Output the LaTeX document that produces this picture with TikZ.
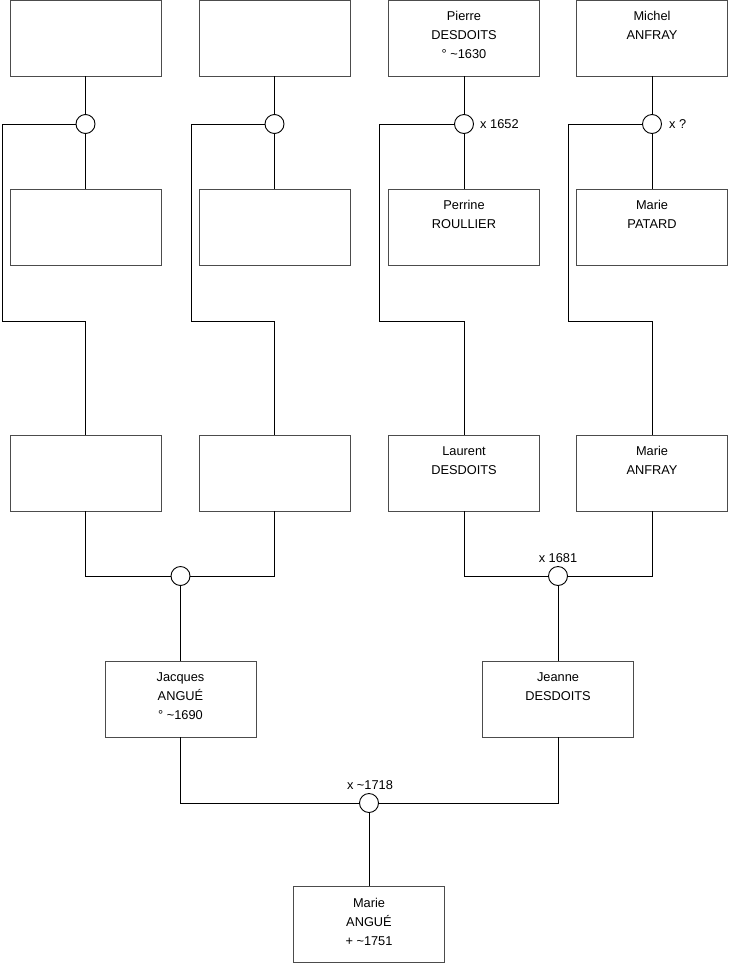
\documentclass[tikz,border=0pt]{standalone}
\usepackage{fontspec}
\setmainfont{Liberation Sans}
\begin{document}
\begin{tikzpicture}[x=1pt,y=1pt,
  pbox/.style={draw=black!70,line width=0.9pt,rectangle,minimum width=151pt,minimum height=76pt,inner sep=0pt},
  pname/.style={anchor=north,align=center,font=\fontsize{12.8}{19}\selectfont,inner sep=0pt},
  union/.style={draw=black,line width=0.9pt,circle,minimum size=19pt,inner sep=0pt},
  conn/.style={draw=black,line width=0.9pt},
  lbl/.style={font=\fontsize{12.8}{14}\selectfont,inner sep=0pt}]
\useasboundingbox (0,0) rectangle (740,-975);
% row 1
\node[pbox] (a1) at (85.5,-38) {};
\node[pbox] (a2) at (274.5,-38) {};
\node[pbox] (a3) at (464,-38) {};
\node[pbox] (a4) at (652,-38) {};
% row 2
\node[pbox] (b1) at (85.5,-227) {};
\node[pbox] (b2) at (274.5,-227) {};
\node[pbox] (b3) at (464,-227) {};
\node[pbox] (b4) at (652,-227) {};
% row 3
\node[pbox] (r1) at (85.5,-473) {};
\node[pbox] (r2) at (274.5,-473) {};
\node[pbox] (r3) at (464,-473) {};
\node[pbox] (r4) at (652,-473) {};
% row 4
\node[pbox] (jq) at (180.5,-699) {};
\node[pbox] (jn) at (558,-699) {};
% row 5
\node[pbox] (ma) at (369,-924.5) {};
% texts
\node[pname] (ta3) at ([yshift=-11.5]a3.north) {Pierre\\DESDOITS\\° \textasciitilde1630};
\node[pname] (ta4) at ([yshift=-11.5]a4.north) {Michel\\ANFRAY};
\node[pname] (tb3) at ([yshift=-11.5]b3.north) {Perrine\\ROULLIER};
\node[pname] (tb4) at ([yshift=-11.5]b4.north) {Marie\\PATARD};
\node[pname] (tr3) at ([yshift=-11.5]r3.north) {Laurent\\DESDOITS};
\node[pname] (tr4) at ([yshift=-11.5]r4.north) {Marie\\ANFRAY};
\node[pname] (tjq) at ([yshift=-11.5]jq.north) {Jacques\\ANGUÉ\\° \textasciitilde1690};
\node[pname] (tjn) at ([yshift=-11.5]jn.north) {Jeanne\\DESDOITS};
\node[pname] (tma) at ([yshift=-11.5]ma.north) {Marie\\ANGUÉ\\+ \textasciitilde1751};
% unions
\node[union] (u1) at (85.5,-124) {};
\node[union] (u2) at (274.5,-124) {};
\node[union] (u3) at (464,-124) {};
\node[union] (u4) at (652,-124) {};
\node[union] (m1) at (180.5,-576) {};
\node[union] (m2) at (558,-576) {};
\node[union] (m3) at (369,-803) {};
% corner coordinates
\coordinate (k1) at (2,-321);
\coordinate (k2) at (191,-321);
\coordinate (k3) at (379,-321);
\coordinate (k4) at (568,-321);
% connectors
\foreach \i in {1,2,3,4}{
  \draw[conn] (a\i) -- (u\i);
  \draw[conn] (u\i) -- (b\i);
  \draw[conn] (u\i.west) -| (k\i) -| (r\i.north);
}
\draw[conn] (r1.south) |- (m1.west);
\draw[conn] (r2.south) |- (m1.east);
\draw[conn] (m1) -- (jq);
\draw[conn] (r3.south) |- (m2.west);
\draw[conn] (r4.south) |- (m2.east);
\draw[conn] (m2) -- (jn);
\draw[conn] (jq.south) |- (m3.west);
\draw[conn] (jn.south) |- (m3.east);
\draw[conn] (m3) -- (ma);
% labels
\node[lbl,anchor=west] (l3) at (480,-124) {x 1652};
\node[lbl,anchor=west] (l4) at (669,-124) {x ?};
\node[lbl] (lm2) at (558,-558) {x 1681};
\node[lbl] (lm3) at (370,-785) {x \textasciitilde1718};
\end{tikzpicture}
\end{document}
